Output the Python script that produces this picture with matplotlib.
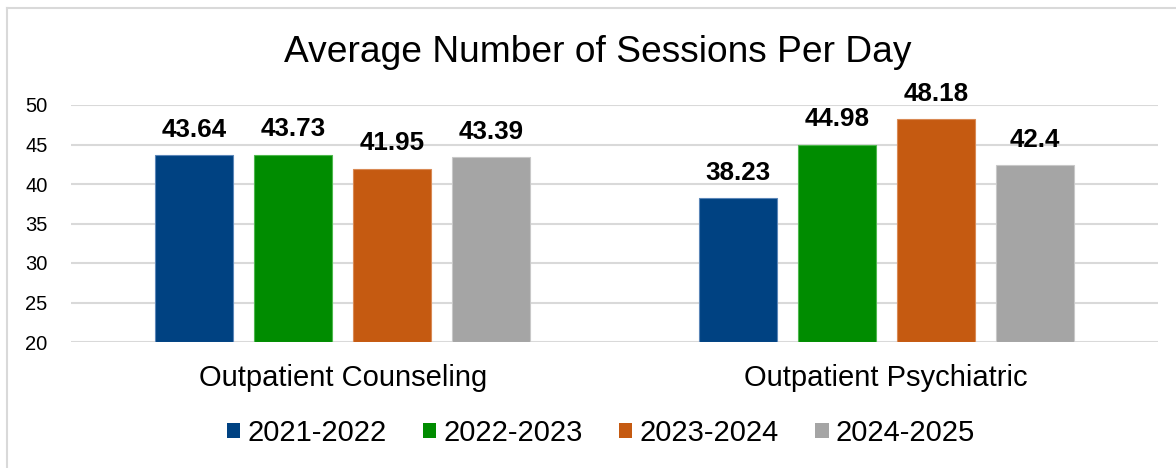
import matplotlib
matplotlib.use("Agg")
import matplotlib.pyplot as plt
from matplotlib.patches import Patch
from matplotlib.lines import Line2D
from matplotlib.transforms import blended_transform_factory
import numpy as np

categories = ["Outpatient Counseling", "Outpatient Psychiatric"]
series_names = ["2021-2022", "2022-2023", "2023-2024", "2024-2025"]
values_2021 = [43.64, 38.23]
values_2022 = [43.73, 44.98]
values_2023 = [41.95, 48.18]
values_2024 = [43.39, 42.4]
yticks = [20, 25, 30, 35, 40, 45, 50]
title = "Average Number of Sessions Per Day"

colors = ["#004282", "#008C00", "#C55A11", "#A5A5A5"]
edges = ["#5B86B8", "#4DB84D", "#D98A55", "#C8C8C8"]
all_vals = [values_2021, values_2022, values_2023, values_2024]

plt.rcParams['font.family'] = ['Liberation Sans', 'DejaVu Sans']

fig = plt.figure(figsize=(11.76, 4.68), dpi=100)
ax = fig.add_axes([71/1176, 1-342/468, (1158-71)/1176, (342-105)/468])

x = np.arange(len(categories))
step = 99/543.5
width = 78/543.5
for i, (vals, c, ec) in enumerate(zip(all_vals, colors, edges)):
    pos = x + (i - 1.5) * step
    ax.bar(pos, np.array(vals) - 20, bottom=20, width=width, color=c,
           edgecolor=ec, linewidth=0.8, zorder=3)
    for p, v in zip(pos, vals):
        ax.annotate(f"{v:g}", (p, v), xytext=(0, 9.5), textcoords="offset points",
                    ha="center", va="bottom", fontsize=18.7, fontweight="bold",
                    color="black")

ax.set_xlim(-0.5, 1.5)
ax.set_ylim(20, 50)
ax.set_yticks(yticks)
ax.set_yticklabels([str(t) for t in yticks], fontsize=14.5)
ax.tick_params(axis="y", length=0, pad=17)
ax.set_xticks([])
for s in ax.spines.values():
    s.set_visible(False)
ax.grid(axis="y", color="#D9D9D9", linewidth=1.5, zorder=0)
ax.set_axisbelow(True)

trans = blended_transform_factory(ax.transData, fig.transFigure)
for xi, cat in zip(x, categories):
    fig.text(xi, 1-378/468, cat, transform=trans, ha="center", va="center", fontsize=21)

fig.text(597.5/1176, 1-53/468, title, ha="center", va="center", fontsize=26.7)

handles = [Patch(facecolor=c, edgecolor="none") for c in colors]
fig.legend(handles, series_names, loc="center", bbox_to_anchor=(601/1176, 1-433/468),
           ncol=4, frameon=False, fontsize=21, handlelength=0.45, handleheight=0.45,
           handletextpad=0.25, columnspacing=1.25, borderaxespad=0, borderpad=0)

# chart border (top and left visible)
fig.add_artist(Line2D([7/1176, 7/1176], [0, 1-8/468], color="#D9D9D9", linewidth=1.5,
                      transform=fig.transFigure))
fig.add_artist(Line2D([7/1176, 1], [1-8/468, 1-8/468], color="#D9D9D9", linewidth=1.5,
                      transform=fig.transFigure))

fig.savefig("out.png", dpi=100)
